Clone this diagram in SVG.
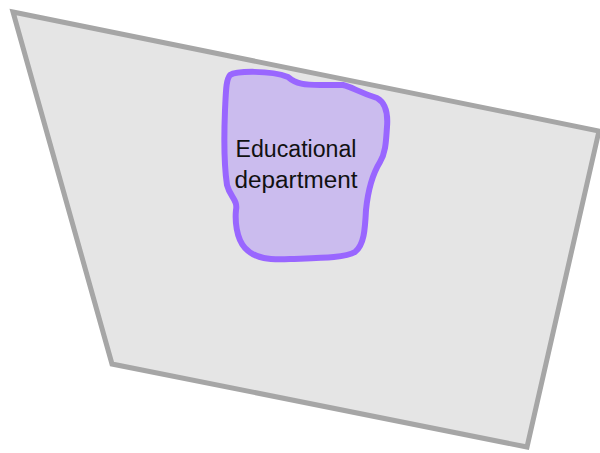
<svg xmlns="http://www.w3.org/2000/svg" width="600" height="453" viewBox="0 0 600 453">
<style>
.area{fill:#e5e5e5;stroke:#a6a6a6;stroke-width:5;stroke-linejoin:miter}
.blob{fill:#cbbcee;stroke:#9966ff;stroke-width:6;stroke-linejoin:round}
.lbl{font-family:"Liberation Sans",Arial,sans-serif;font-size:23px;fill:#111;text-anchor:middle}
</style>
<rect width="600" height="453" fill="#ffffff"/>
<g id="region">
<polygon class="area" points="13,12 599,131 527,447 112,364"/>
</g>
<g id="educational-department">
<path class="blob" d="M230,75 C236,71 270,70 288,77 C296,84 305,85 320,85 L343,85 C352,87 358,92 377,98 C386,103 388,115 387,127 C386,140 386,152 380,162 C372,175 368,190 366,210 C365,230 364,245 355,252 C345,258 320,258 290,259 C270,260 255,259 245,248 C236,238 235,220 236,210 C238,200 230,197 227,185 C224,165 224,135 225,110 C226,90 226,80 230,75 Z"/>
<text class="lbl" x="296" y="157" textLength="121" lengthAdjust="spacingAndGlyphs">Educational</text>
<text class="lbl" x="296" y="188" textLength="123" lengthAdjust="spacingAndGlyphs">department</text>
</g>
<g id="connectors"></g>
</svg>
